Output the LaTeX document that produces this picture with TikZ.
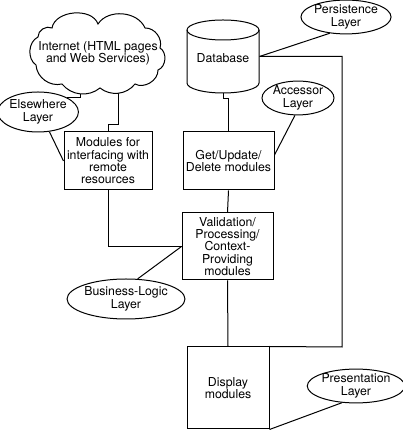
\documentclass[tikz,border=0pt]{standalone}
\usepackage{fontspec}
\setmainfont{TeX Gyre Heros}
\usetikzlibrary{shapes.geometric,backgrounds}
\newcommand{\lblfont}{\fontsize{12.3}{12.3}\selectfont}
\tikzset{
  box/.style={draw, fill=white, rectangle, line width=1pt},
  layer/.style={draw, fill=white, ellipse, line width=1pt},
  wire/.style={line width=1pt},
}
\begin{document}
\begin{tikzpicture}[x=1pt,y=1pt,line width=1pt,
  every node/.append style={font=\lblfont, align=center, inner sep=0pt}]
\useasboundingbox (0,0) rectangle (402,430);
% cloud (anchor node, outline, text)
\node[minimum width=132pt, minimum height=80pt] (cloud) at (99,378) {};
\draw[wire, fill=white] (36,365) to[bend left=60] (38,393) to[bend left=60] (52,402)
  to[bend left=75] (98,406) to[bend left=62] (145,402) to[bend left=55] (160,382)
  to[bend left=65] (158,360) to[bend left=60] (135,346) to[bend left=45] (100,342)
  to[bend left=45] (62,346) to[bend left=50] (36,365) -- cycle;
\node (cloudtxt) at (98,376.5) {Internet (HTML pages\\and Web Services)};
\node[layer, minimum width=75pt, minimum height=40pt] (else) at (38,318) {Elsewhere\\Layer};
\node[box, minimum width=88pt, minimum height=58pt] (mod) at (108,269)
      {Modules for\\interfacing with\\remote\\resources};
% database
\node[minimum width=72pt, minimum height=73pt] (db) at (223,373.5) {\\Database};
\begin{scope}[on background layer]
\draw[wire, fill=white] (187,400) -- (187,347)
   arc[start angle=180, end angle=360, x radius=36pt, y radius=10pt]
   -- (259,400)
   arc[start angle=0, end angle=180, x radius=36pt, y radius=10pt] -- cycle;
\draw[wire] (187,400) arc[start angle=180, end angle=360, x radius=36pt, y radius=10pt];
\end{scope}
\node[layer, minimum width=90pt, minimum height=33pt] (per) at (346,413) {Persistence\\Layer};
\node[layer, minimum width=72pt, minimum height=33pt] (acc) at (298,332) {Accessor\\Layer};
\node[box, minimum width=91pt, minimum height=58pt] (get) at (228.5,269) {Get/Update/\\Delete modules};
\node[box, minimum width=91pt, minimum height=67pt] (val) at (227.5,183.5)
      {Validation/\\Processing/\\Context-\\Providing\\modules};
\node[layer, minimum width=91pt, minimum height=40pt] (bl) at (126,131) {Business-Logic\\Layer};
\node[box, minimum width=82pt, minimum height=82pt] (disp) at (228,42) {Display\\modules};
\node[layer, minimum width=92pt, minimum height=33pt] (pres) at (356,44) {Presentation\\Layer};
\coordinate (r) at (342,83);
\coordinate (j1) at (118,305);
\begin{scope}[on background layer]
\draw[wire] ([xshift=-19pt]cloud.center) |- (else.north east);
\draw[wire] ([xshift=19pt]cloud.center) -- (j1) -| (mod.north);
\draw[wire] (else.-60) -- (mod.west);
\draw[wire] (mod.south) |- (val.west);
\draw[wire] (bl.60) -- (val.west);
\draw[wire] (db.south) -- ++(0,-5) -| (get.north);
\draw[wire] (get.south) -- (val.north);
\draw[wire] (acc.-100) -- ([yshift=6pt]get.east);
\draw[wire] (per.-135) -- (db.east);
\draw[wire] (db.east) -| (r) -- (disp.north east);
\draw[wire] (val.south) -- (disp.north);
\draw[wire] (pres.-130) -- (disp.south east);
\end{scope}
\end{tikzpicture}
\end{document}
